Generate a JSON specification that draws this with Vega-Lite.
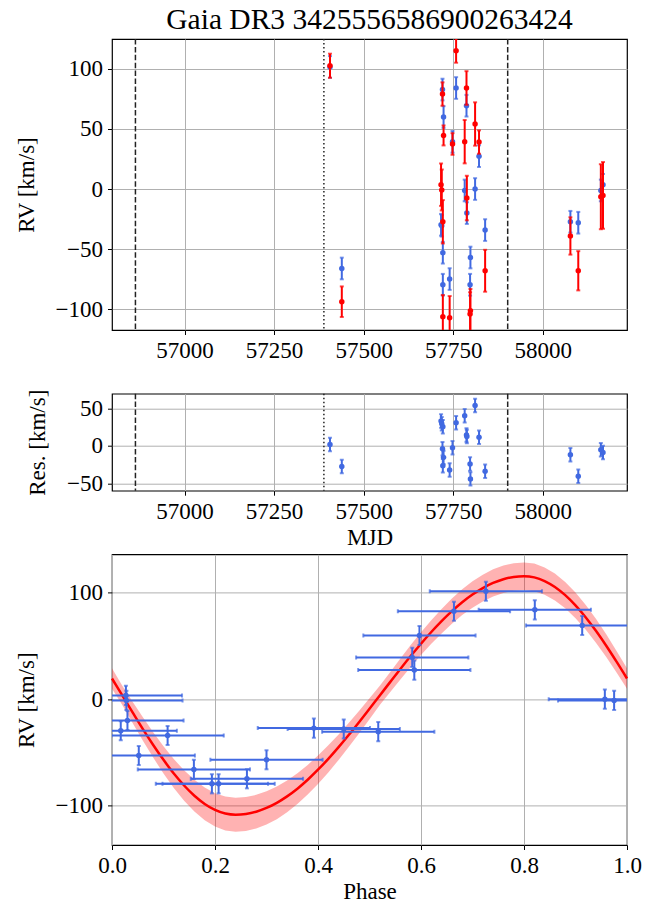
{
  "$schema": "https://vega.github.io/schema/vega-lite/v6.json",
  "background": "white",
  "padding": {"left": 14, "top": 4, "right": 5, "bottom": 5},
  "autosize": {"type": "pad"},
  "config": {
    "font": "Liberation Serif",
    "view": {"stroke": "black", "strokeWidth": 1.2},
    "axis": {
      "labelFont": "Liberation Serif", "labelFontSize": 23, "labelColor": "black",
      "titleFont": "Liberation Serif", "titleFontSize": 23, "titleFontWeight": "normal", "titleColor": "black",
      "domain": false, "tickColor": "black", "tickSize": 4.5, "tickWidth": 1, "labelPadding": 5,
      "gridColor": "#b0b0b0", "gridWidth": 1, "gridOpacity": 1,
      "labelFlush": false, "labelOverlap": false, "labelBound": false
    },
    "axisY": {"titlePadding": 17},
    "axisX": {"titlePadding": 3},
    "title": {"font": "Liberation Serif", "fontSize": 29.5, "fontWeight": "normal", "color": "black"}
  },
  "datasets": {
    "vlines": [
      {"mjd": 56863, "kind": "dashed"},
      {"mjd": 57389, "kind": "dotted"},
      {"mjd": 57902, "kind": "dashed"}
    ],
    "rv": [
      {"mjd": 57406, "rv": 101.4, "e": 9, "obs": 102.4, "oe": 10, "res": 2, "phase": 0.726, "pe": 0.109},
      {"mjd": 57439, "rv": -66, "e": 9, "obs": -93.6, "oe": 12.7, "res": -27.6, "phase": 0.159, "pe": 0.109},
      {"mjd": 57716, "rv": -29.7, "e": 9, "obs": 3.6, "oe": 17.6, "res": 33.3, "phase": 0.017, "pe": 0.109},
      {"mjd": 57718, "rv": -30.5, "e": 9, "obs": -0.8, "oe": 17, "res": 29.7, "phase": 0.517, "pe": 0.109},
      {"mjd": 57720, "rv": 82.6, "e": 9, "obs": 78.9, "oe": 9.7, "res": -3.7, "phase": 0.664, "pe": 0.109},
      {"mjd": 57721, "rv": -52.9, "e": 9, "obs": -27.2, "oe": 18, "res": 25.7, "phase": 0.052, "pe": 0.109},
      {"mjd": 57721, "rv": -79.5, "e": 9, "obs": -106, "oe": 18, "res": -26.5, "phase": 0.194, "pe": 0.109},
      {"mjd": 57723, "rv": 59.8, "e": 9, "obs": 44.5, "oe": 8.3, "res": -15.3, "phase": 0.597, "pe": 0.109},
      {"mjd": 57740, "rv": -74.8, "e": 9, "obs": -106.9, "oe": 18, "res": -32.1, "phase": 0.262, "pe": 0.109},
      {"mjd": 57748, "rv": 39.2, "e": 9, "obs": 37.4, "oe": 9, "res": -2.5, "phase": 0.583, "pe": 0.109},
      {"mjd": 57758, "rv": 83.9, "e": 9, "obs": 114.9, "oe": 10, "res": 31, "phase": 0.821, "pe": 0.109},
      {"mjd": 57782, "rv": -1.2, "e": 9, "obs": 39.3, "oe": 18, "res": 40.5, "phase": 0.028, "pe": 0.109},
      {"mjd": 57787, "rv": 69.2, "e": 9, "obs": 83.9, "oe": 14, "res": 14.7, "phase": 0.913, "pe": 0.109},
      {"mjd": 57788, "rv": -20, "e": 9, "obs": -7.5, "oe": 18.5, "res": 12.5, "phase": 0.03, "pe": 0.109},
      {"mjd": 57797, "rv": -79.5, "e": 9, "obs": -103.8, "oe": 18, "res": -24.3, "phase": 0.207, "pe": 0.109},
      {"mjd": 57798, "rv": -56.9, "e": 9, "obs": -101, "oe": 18, "res": -44.1, "phase": 0.3, "pe": 0.109},
      {"mjd": 57811, "rv": 0, "e": 9, "obs": 54, "oe": 18, "res": 54, "phase": 0.957, "pe": 0.109},
      {"mjd": 57822, "rv": 27.3, "e": 9, "obs": 39, "oe": 9.7, "res": 11.7, "phase": 0.587, "pe": 0.109},
      {"mjd": 57839, "rv": -34.1, "e": 9, "obs": -67.9, "oe": 17.4, "res": -33.8, "phase": 0.108, "pe": 0.109},
      {"mjd": 58077, "rv": -27.2, "e": 9, "obs": -39, "oe": 15.5, "res": -11.8, "phase": 0.392, "pe": 0.109},
      {"mjd": 58099, "rv": -28, "e": 9, "obs": -67.9, "oe": 16.3, "res": -40.5, "phase": 0.45, "pe": 0.109},
      {"mjd": 58162, "rv": -1.2, "e": 9, "obs": -6.4, "oe": 27, "res": -5.2, "phase": 0.975, "pe": 0.109},
      {"mjd": 58168, "rv": 3.5, "e": 9, "obs": -5.3, "oe": 27.7, "res": -8.8, "phase": 0.027, "pe": 0.109}
    ],
    "model": [
      {"phase": 0.00, "v": 19.4, "lo": 9.8, "hi": 29.0},
      {"phase": 0.02, "v": 3.5, "lo": -5.5, "hi": 12.5},
      {"phase": 0.04, "v": -12.4, "lo": -22.4, "hi": -2.4},
      {"phase": 0.06, "v": -28.1, "lo": -39.1, "hi": -17.1},
      {"phase": 0.08, "v": -43.0, "lo": -54.9, "hi": -31.1},
      {"phase": 0.10, "v": -57.0, "lo": -69.8, "hi": -44.2},
      {"phase": 0.12, "v": -69.9, "lo": -83.5, "hi": -56.3},
      {"phase": 0.14, "v": -81.1, "lo": -95.4, "hi": -66.8},
      {"phase": 0.16, "v": -90.7, "lo": -105.6, "hi": -75.8},
      {"phase": 0.18, "v": -98.4, "lo": -113.8, "hi": -83.0},
      {"phase": 0.20, "v": -104.0, "lo": -119.7, "hi": -88.3},
      {"phase": 0.22, "v": -107.4, "lo": -123.3, "hi": -91.5},
      {"phase": 0.24, "v": -108.5, "lo": -124.5, "hi": -92.5},
      {"phase": 0.26, "v": -107.8, "lo": -123.8, "hi": -91.8},
      {"phase": 0.28, "v": -105.7, "lo": -121.5, "hi": -89.9},
      {"phase": 0.30, "v": -102.2, "lo": -117.8, "hi": -86.6},
      {"phase": 0.32, "v": -97.4, "lo": -112.7, "hi": -82.1},
      {"phase": 0.34, "v": -91.3, "lo": -106.2, "hi": -76.4},
      {"phase": 0.36, "v": -84.1, "lo": -98.6, "hi": -69.6},
      {"phase": 0.38, "v": -75.7, "lo": -89.6, "hi": -61.8},
      {"phase": 0.40, "v": -66.3, "lo": -79.7, "hi": -52.9},
      {"phase": 0.42, "v": -56.1, "lo": -68.8, "hi": -43.4},
      {"phase": 0.44, "v": -45.1, "lo": -57.1, "hi": -33.1},
      {"phase": 0.46, "v": -33.5, "lo": -44.8, "hi": -22.2},
      {"phase": 0.48, "v": -21.4, "lo": -32.0, "hi": -10.8},
      {"phase": 0.50, "v": -9.0, "lo": -18.8, "hi": 0.8},
      {"phase": 0.52, "v": 3.5, "lo": -5.5, "hi": 12.5},
      {"phase": 0.54, "v": 16.0, "lo": 6.6, "hi": 25.4},
      {"phase": 0.56, "v": 28.4, "lo": 18.5, "hi": 38.3},
      {"phase": 0.58, "v": 40.5, "lo": 30.2, "hi": 50.8},
      {"phase": 0.60, "v": 52.1, "lo": 41.4, "hi": 62.8},
      {"phase": 0.62, "v": 63.1, "lo": 52.0, "hi": 74.2},
      {"phase": 0.64, "v": 73.3, "lo": 61.8, "hi": 84.8},
      {"phase": 0.66, "v": 82.7, "lo": 70.9, "hi": 94.5},
      {"phase": 0.68, "v": 91.1, "lo": 79.0, "hi": 103.2},
      {"phase": 0.70, "v": 98.3, "lo": 85.9, "hi": 110.7},
      {"phase": 0.72, "v": 104.4, "lo": 91.8, "hi": 117.0},
      {"phase": 0.74, "v": 109.2, "lo": 96.4, "hi": 122.0},
      {"phase": 0.76, "v": 112.7, "lo": 99.8, "hi": 125.6},
      {"phase": 0.78, "v": 114.8, "lo": 101.8, "hi": 127.8},
      {"phase": 0.80, "v": 115.5, "lo": 102.5, "hi": 128.5},
      {"phase": 0.82, "v": 114.4, "lo": 101.4, "hi": 127.4},
      {"phase": 0.84, "v": 111.0, "lo": 98.2, "hi": 123.8},
      {"phase": 0.86, "v": 105.4, "lo": 92.8, "hi": 118.0},
      {"phase": 0.88, "v": 97.7, "lo": 85.3, "hi": 110.1},
      {"phase": 0.90, "v": 88.1, "lo": 76.1, "hi": 100.1},
      {"phase": 0.92, "v": 76.8, "lo": 65.2, "hi": 88.4},
      {"phase": 0.94, "v": 64.0, "lo": 52.8, "hi": 75.2},
      {"phase": 0.96, "v": 50.0, "lo": 39.3, "hi": 60.7},
      {"phase": 0.98, "v": 35.0, "lo": 24.9, "hi": 45.1},
      {"phase": 1.00, "v": 19.4, "lo": 9.8, "hi": 29.0}
    ]
  },
  "spacing": 63.7,
  "bounds": "flush",
  "vconcat": [
    {
      "width": 515,
      "height": 291,
      "title": {"text": "Gaia DR3 3425556586900263424", "anchor": "middle", "baseline": "alphabetic", "offset": -20},
      "layer": [
        {
          "data": {"name": "vlines"},
          "transform": [{"filter": "datum.kind === 'dashed'"}],
          "mark": {"type": "rule", "color": "#222222", "strokeWidth": 1.5, "strokeDash": [5.5, 2.4]},
          "encoding": {
            "x": {"field": "mjd", "type": "quantitative", "title": null, "scale": {"domain": [56797.6, 58235], "nice": false, "zero": false},
                  "axis": {"values": [57000, 57250, 57500, 57750, 58000], "format": "d", "title": null}}
          }
        },
        {
          "data": {"name": "vlines"},
          "transform": [{"filter": "datum.kind === 'dotted'"}],
          "mark": {"type": "rule", "color": "#222222", "strokeWidth": 1.5, "strokeDash": [1.5, 2.5]},
          "encoding": {
            "x": {"field": "mjd", "type": "quantitative", "title": null}
          }
        },
        {
          "data": {"name": "rv"},
          "mark": {"type": "errorbar", "color": "#4169e1", "ticks": true, "thickness": 2, "size": 4, "clip": true},
          "encoding": {
            "x": {"field": "mjd", "type": "quantitative", "title": null},
            "y": {"field": "rv", "type": "quantitative", "title": "RV [km/s]", "scale": {"domain": [-117.1, 124.6], "nice": false, "zero": false},
                  "axis": {"values": [-100, -50, 0, 50, 100], "format": "d", "title": "RV [km/s]"}},
            "yError": {"field": "e"}
          }
        },
        {
          "data": {"name": "rv"},
          "mark": {"type": "point", "filled": true, "color": "#4169e1", "size": 30, "opacity": 1, "clip": true},
          "encoding": {
            "x": {"field": "mjd", "type": "quantitative", "title": null},
            "y": {"field": "rv", "type": "quantitative", "title": "RV [km/s]"}
          }
        },
        {
          "data": {"name": "rv"},
          "mark": {"type": "errorbar", "color": "#ff0000", "ticks": true, "thickness": 2, "size": 4, "clip": true},
          "encoding": {
            "x": {"field": "mjd", "type": "quantitative", "title": null},
            "y": {"field": "obs", "type": "quantitative", "title": "RV [km/s]"},
            "yError": {"field": "oe"}
          }
        },
        {
          "data": {"name": "rv"},
          "mark": {"type": "point", "filled": true, "color": "#ff0000", "size": 30, "opacity": 1, "clip": true},
          "encoding": {
            "x": {"field": "mjd", "type": "quantitative", "title": null},
            "y": {"field": "obs", "type": "quantitative", "title": "RV [km/s]"}
          }
        }
      ]
    },
    {
      "width": 515,
      "height": 97,
      "layer": [
        {
          "data": {"name": "vlines"},
          "transform": [{"filter": "datum.kind === 'dashed'"}],
          "mark": {"type": "rule", "color": "#222222", "strokeWidth": 1.5, "strokeDash": [5.5, 2.4]},
          "encoding": {
            "x": {"field": "mjd", "type": "quantitative", "title": "MJD", "scale": {"domain": [56797.6, 58235], "nice": false, "zero": false},
                  "axis": {"values": [57000, 57250, 57500, 57750, 58000], "format": "d", "title": "MJD"}}
          }
        },
        {
          "data": {"name": "vlines"},
          "transform": [{"filter": "datum.kind === 'dotted'"}],
          "mark": {"type": "rule", "color": "#222222", "strokeWidth": 1.5, "strokeDash": [1.5, 2.5]},
          "encoding": {
            "x": {"field": "mjd", "type": "quantitative", "title": "MJD"}
          }
        },
        {
          "data": {"name": "rv"},
          "mark": {"type": "errorbar", "color": "#4169e1", "ticks": true, "thickness": 2, "size": 4, "clip": true},
          "encoding": {
            "x": {"field": "mjd", "type": "quantitative", "title": "MJD"},
            "y": {"field": "res", "type": "quantitative", "title": "Res. [km/s]", "scale": {"domain": [-59.9, 69.9], "nice": false, "zero": false},
                  "axis": {"values": [-50, 0, 50], "format": "d", "title": "Res. [km/s]"}},
            "yError": {"field": "e"}
          }
        },
        {
          "data": {"name": "rv"},
          "mark": {"type": "point", "filled": true, "color": "#4169e1", "size": 30, "opacity": 1, "clip": true},
          "encoding": {
            "x": {"field": "mjd", "type": "quantitative", "title": "MJD"},
            "y": {"field": "res", "type": "quantitative", "title": "Res. [km/s]"}
          }
        }
      ]
    },
    {
      "width": 515,
      "height": 290.6,
      "layer": [
        {
          "data": {"name": "model"},
          "mark": {"type": "area", "color": "#ff0000", "opacity": 0.3},
          "encoding": {
            "x": {"field": "phase", "type": "quantitative", "title": "Phase", "scale": {"domain": [0, 1], "nice": false, "zero": false},
                  "axis": {"values": [0, 0.2, 0.4, 0.6, 0.8, 1.0], "format": ".1f", "title": "Phase"}},
            "y": {"field": "lo", "type": "quantitative", "title": "RV [km/s]", "scale": {"domain": [-137, 136], "nice": false, "zero": false},
                  "axis": {"values": [-100, 0, 100], "format": "d", "title": "RV [km/s]"}},
            "y2": {"field": "hi"}
          }
        },
        {
          "data": {"name": "model"},
          "mark": {"type": "line", "color": "#ff0000", "strokeWidth": 2.5, "interpolate": "monotone"},
          "encoding": {
            "x": {"field": "phase", "type": "quantitative", "title": "Phase"},
            "y": {"field": "v", "type": "quantitative", "title": "RV [km/s]"}
          }
        },
        {
          "data": {"name": "rv"},
          "mark": {"type": "errorbar", "color": "#4169e1", "ticks": true, "thickness": 2, "size": 4, "clip": true},
          "encoding": {
            "x": {"field": "phase", "type": "quantitative", "title": "Phase"},
            "xError": {"field": "pe"},
            "y": {"field": "rv", "type": "quantitative", "title": "RV [km/s]"}
          }
        },
        {
          "data": {"name": "rv"},
          "mark": {"type": "errorbar", "color": "#4169e1", "ticks": true, "thickness": 2, "size": 4, "clip": true},
          "encoding": {
            "x": {"field": "phase", "type": "quantitative", "title": "Phase"},
            "y": {"field": "rv", "type": "quantitative", "title": "RV [km/s]"},
            "yError": {"field": "e"}
          }
        },
        {
          "data": {"name": "rv"},
          "mark": {"type": "point", "filled": true, "color": "#4169e1", "size": 30, "opacity": 1, "clip": true},
          "encoding": {
            "x": {"field": "phase", "type": "quantitative", "title": "Phase"},
            "y": {"field": "rv", "type": "quantitative", "title": "RV [km/s]"}
          }
        }
      ]
    }
  ]
}
